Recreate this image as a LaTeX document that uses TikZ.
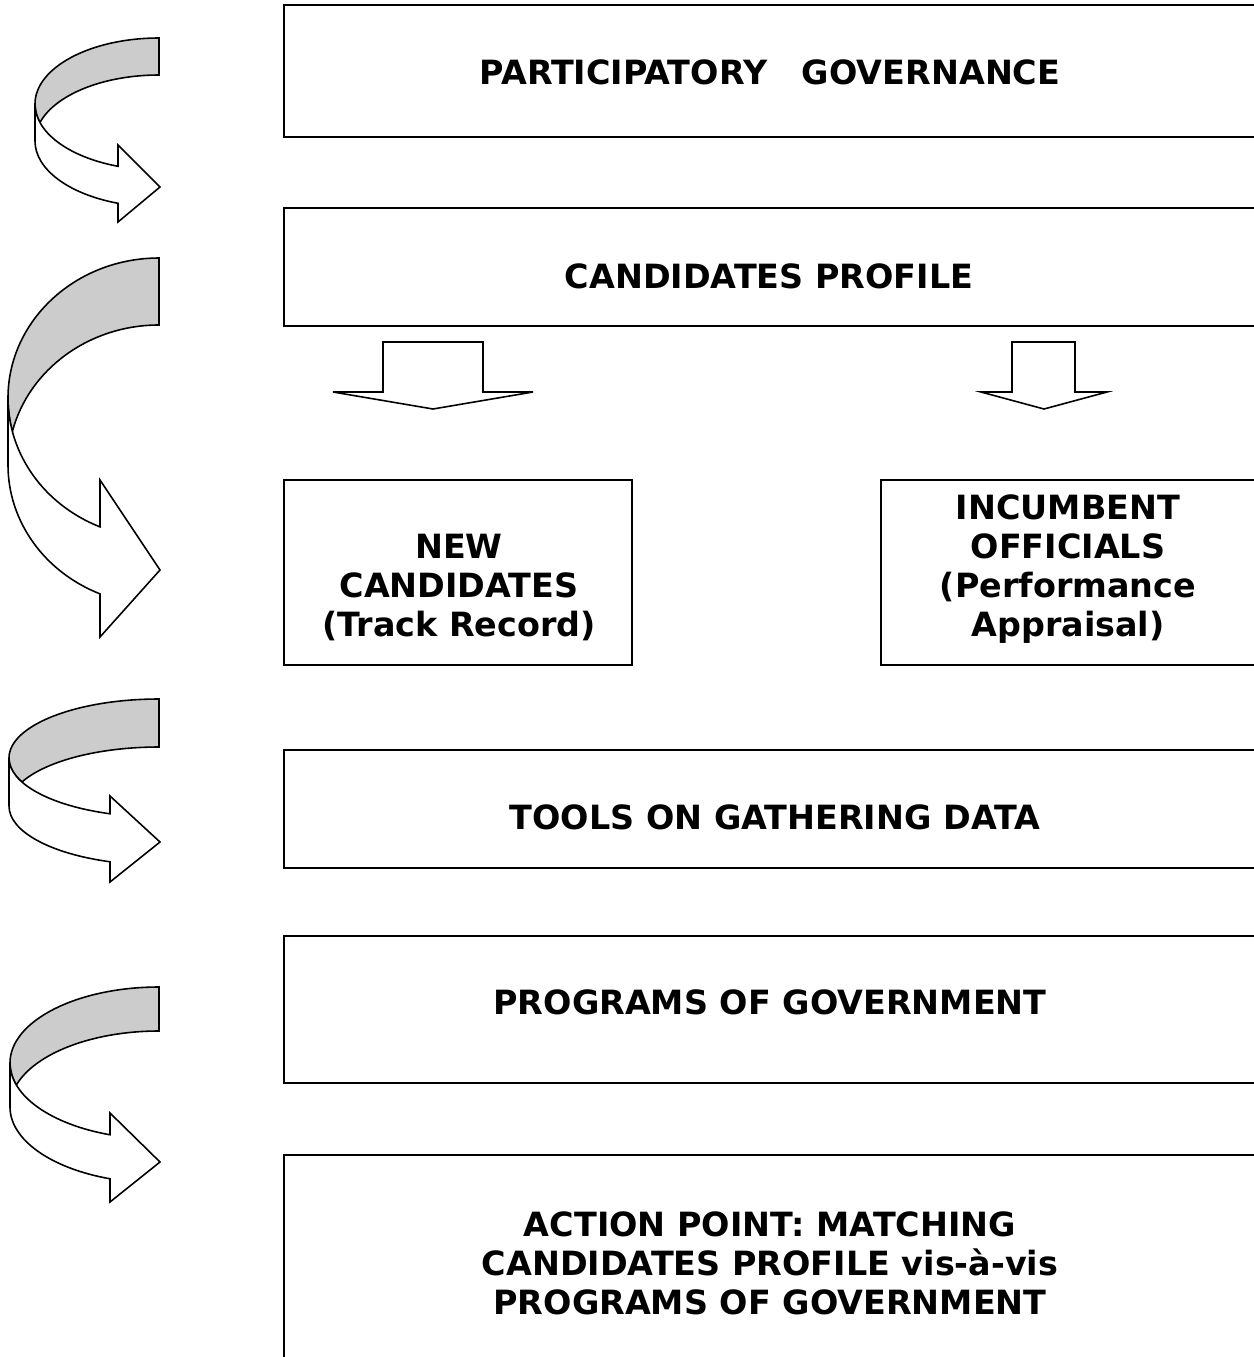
\documentclass[tikz,border=0pt]{standalone}
\usepackage{fontspec}
\setmainfont{DejaVu Sans}
\usepackage{tikz}
\definecolor{bandgray}{RGB}{204,204,204}

\begin{document}
\begin{tikzpicture}[x=0.02cm,y=-0.02cm,
    box/.style={line width=1.1pt},
    lbl/.style={font=\bfseries\fontsize{19}{22.2}\selectfont,align=center,inner sep=0pt},
    band/.style={draw,line width=0.9pt,fill=bandgray},
    front/.style={draw,line width=0.9pt,fill=white}]
        \useasboundingbox (0,0) rectangle (1254,1357);
        \clip (0,0) rectangle (1254,1357);

        % 方框
        \draw[box] (284,5) rectangle (1262,137);
        \draw[box] (284,208) rectangle (1262,326);
        \draw[box] (284,480) rectangle (632,665);
        \draw[box] (881,480) rectangle (1262,665);
        \draw[box] (284,750) rectangle (1262,868);
        \draw[box] (284,936) rectangle (1262,1083);
        \draw[box] (284,1155) rectangle (1262,1380);

        % 文字
        \node[lbl] (gov) at (770,72) {PARTICIPATORY\ \ \ GOVERNANCE};
        \node[lbl] (profile) at (769,276) {CANDIDATES PROFILE};
        \node[lbl] (newcand) at (459,588) {NEW\\CANDIDATES\\(Track Record)};
        \node[lbl] (incumb) at (1068,569) {INCUMBENT\\OFFICIALS\\(Performance\\Appraisal)};
        \node[lbl] (tools) at (775,817) {TOOLS ON GATHERING DATA};
        \node[lbl] (progs) at (770,1002) {PROGRAMS OF GOVERNMENT};
        \node[lbl] (action) at (770,1263) {ACTION POINT: MATCHING\\CANDIDATES PROFILE vis-à-vis\\PROGRAMS OF GOVERNMENT};

        % 向下箭头
        \draw[front] (383,342) -- (483,342) -- (483,392) -- (533,392) -- (433,409) -- (333,392) -- (383,392) -- cycle;
        \draw[front] (1012,342) -- (1075,342) -- (1075,392) -- (1107,392) -- (1044,409) -- (981,392) -- (1012,392) -- cycle;

        % 弯箭头 1
        \draw[band] (159,38) arc[start angle=270,end angle=180,x radius=124,y radius=66]
            arc[start angle=180,end angle={180-asin(37/132)},x radius=124,y radius=66]
            arc[start angle={180+asin(37/132)},end angle=270,x radius=124,y radius=66] -- cycle;
        \draw[front] (35,104) arc[start angle=180,end angle={acos(-41/124)},x radius=124,y radius=66]
            -- (118,145) -- (160,187) -- (118,222) -- (118,{141+66*sin(acos(-41/124))})
            arc[start angle={acos(-41/124)},end angle=180,x radius=124,y radius=66] -- cycle;

        % 弯箭头 2
        \draw[band] (159,258) arc[start angle=270,end angle=180,x radius=151,y radius=140]
            arc[start angle=180,end angle={180-asin(67/280)},x radius=151,y radius=140]
            arc[start angle={180+asin(67/280)},end angle=270,x radius=151,y radius=140] -- cycle;
        \draw[front] (8,398) arc[start angle=180,end angle={acos(-59/151)},x radius=151,y radius=140]
            -- (100,480) -- (160,570) -- (100,637) -- (100,{465+140*sin(acos(-59/151))})
            arc[start angle={acos(-59/151)},end angle=180,x radius=151,y radius=140] -- cycle;

        % 弯箭头 3
        \draw[band] (159,699) arc[start angle=270,end angle=180,x radius=150,y radius=59]
            arc[start angle=180,end angle={180-asin(48/118)},x radius=150,y radius=59]
            arc[start angle={180+asin(48/118)},end angle=270,x radius=150,y radius=59] -- cycle;
        \draw[front] (9,758) arc[start angle=180,end angle={acos(-49/150)},x radius=150,y radius=59]
            -- (110,796) -- (160,842) -- (110,882) -- (110,{806+59*sin(acos(-49/150))})
            arc[start angle={acos(-49/150)},end angle=180,x radius=150,y radius=59] -- cycle;

        % 弯箭头 4
        \draw[band] (159,987) arc[start angle=270,end angle=180,x radius=149,y radius=76]
            arc[start angle=180,end angle={180-asin(44/152)},x radius=149,y radius=76]
            arc[start angle={180+asin(44/152)},end angle=270,x radius=149,y radius=76] -- cycle;
        \draw[front] (10,1063) arc[start angle=180,end angle={acos(-49/149)},x radius=149,y radius=76]
            -- (110,1113) -- (160,1162) -- (110,1202) -- (110,{1107+76*sin(acos(-49/149))})
            arc[start angle={acos(-49/149)},end angle=180,x radius=149,y radius=76] -- cycle;
    \end{tikzpicture}
\end{document}
